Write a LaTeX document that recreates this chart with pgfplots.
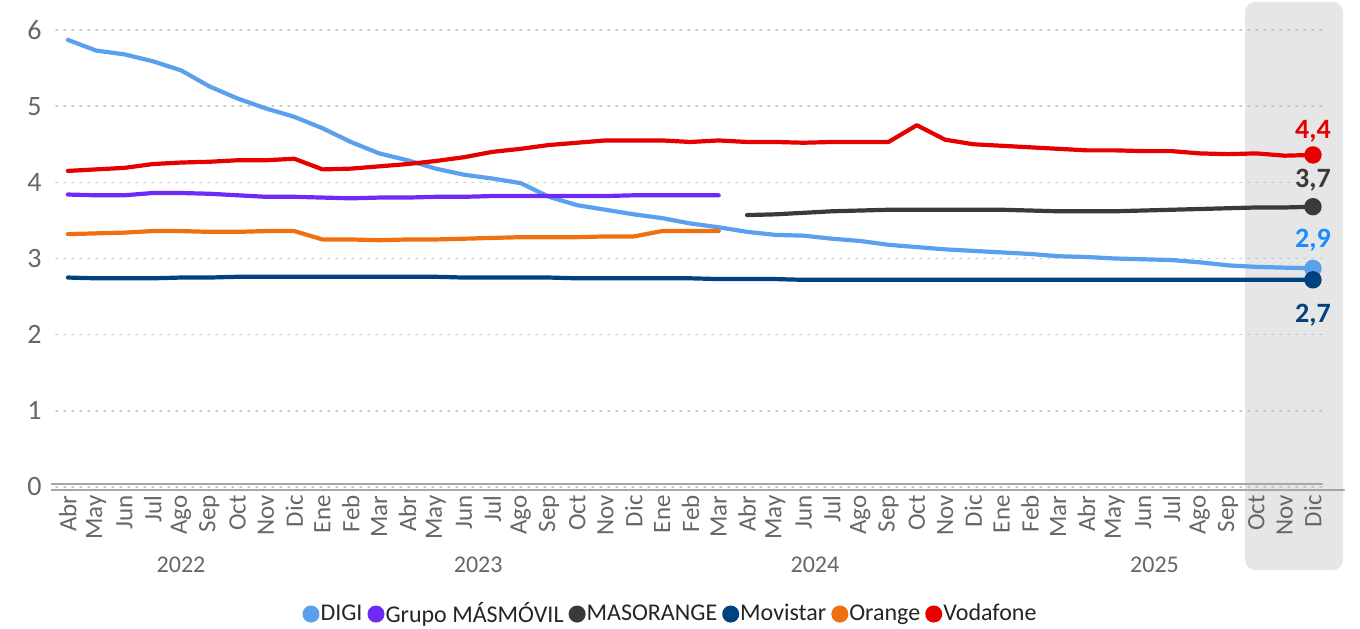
\documentclass[border=0pt]{standalone}
\usepackage{pgfplots}
\pgfplotsset{compat=1.18}
\usepackage{fontspec}
\setmainfont{Carlito}
\definecolor{cdigi}{HTML}{5BA0EC}
\definecolor{cdigilab}{HTML}{1A8CFF}
\definecolor{cmm}{HTML}{6E2AF7}
\definecolor{cmaso}{HTML}{3A3A3A}
\definecolor{cmov}{HTML}{00427E}
\definecolor{corange}{HTML}{F07010}
\definecolor{cvoda}{HTML}{E60000}
\definecolor{ctick}{HTML}{666666}
\definecolor{cleg}{HTML}{252423}
\definecolor{cband}{HTML}{E6E6E6}
\definecolor{cgrid}{HTML}{C4C4C4}
\definecolor{czero}{HTML}{A6A6A6}
\begin{document}
\begin{tikzpicture}
\useasboundingbox (-28pt,-70.5pt) rectangle (652pt,243.5pt);
\fill[cband, rounded corners=5pt] (594.5pt,-41.5pt) rectangle (643.5pt,242.5pt);
\begin{axis}[
  scale only axis,
  width=633pt, height=228.5pt,
  xmin=-0.42, xmax=44.32,
  ymin=0, ymax=6,
  clip=false,
  axis line style={draw=none},
  major tick length=0pt,
  xtick={0,...,44},
  xticklabels={Abr,May,Jun,Jul,Ago,Sep,Oct,Nov,Dic,Ene,Feb,Mar,Abr,May,Jun,Jul,Ago,Sep,Oct,Nov,Dic,Ene,Feb,Mar,Abr,May,Jun,Jul,Ago,Sep,Oct,Nov,Dic,Ene,Feb,Mar,Abr,May,Jun,Jul,Ago,Sep,Oct,Nov,Dic},
  xticklabel style={rotate=90, anchor=east, inner xsep=4pt, inner ysep=0pt, font=\fontsize{12.5}{14}\selectfont, text=ctick},
  ytick={0,1,2,3,4,5,6},
  yticklabels={0,1,2,3,4,5,6},
  yticklabel style={anchor=east, inner xsep=0pt, xshift=-7pt, font=\fontsize{14}{16}\selectfont, text=ctick},
  ymajorgrids,
  grid style={cgrid, line width=0.7pt, dash pattern=on 0.7pt off 3.3pt},
  line join=round, line cap=round,
  legend columns=-1,
  legend style={at={(0.485,-0.278)}, anchor=center, draw=none, fill=none,
    font=\fontsize{12}{14}\selectfont, text=cleg,
    /tikz/every even column/.append style={column sep=2pt},
    nodes={inner xsep=0.5pt, inner ysep=1pt}},
  legend image code/.code={\fill (0pt,0pt) circle (3.2pt);},
]
\draw[czero, line width=1.1pt] (axis cs:-0.99,0) ++(0,1.5pt) -- ([yshift=1.5pt]axis cs:44.32,0);
\draw[czero, line width=1.1pt] (axis cs:-0.99,0) ++(0,-1.5pt) -- ([yshift=-1.5pt]axis cs:45.1,0);

\addplot[color=cdigi, line width=2.1pt, mark=*, mark size=3.3pt, mark indices={45}] coordinates {
(0,5.87)(1,5.73)(2,5.68)(3,5.59)(4,5.47)(5,5.26)(6,5.10)(7,4.97)(8,4.86)(9,4.71)
(10,4.53)(11,4.38)(12,4.29)(13,4.18)(14,4.10)(15,4.05)(16,3.99)(17,3.81)(18,3.70)(19,3.64)
(20,3.58)(21,3.53)(22,3.46)(23,3.41)(24,3.35)(25,3.31)(26,3.30)(27,3.26)(28,3.23)(29,3.18)
(30,3.15)(31,3.12)(32,3.10)(33,3.08)(34,3.06)(35,3.03)(36,3.02)(37,3.00)(38,2.99)(39,2.98)
(40,2.95)(41,2.91)(42,2.89)(43,2.88)(44,2.87)};
\addlegendentry{DIGI}

\addplot[color=cmm, line width=2.1pt] coordinates {
(0,3.84)(1,3.83)(2,3.83)(3,3.86)(4,3.86)(5,3.85)(6,3.83)(7,3.81)(8,3.81)(9,3.80)
(10,3.79)(11,3.80)(12,3.80)(13,3.81)(14,3.81)(15,3.82)(16,3.82)(17,3.82)(18,3.82)(19,3.82)
(20,3.83)(21,3.83)(22,3.83)(23,3.83)};
\addlegendentry{Grupo MÁSMÓVIL}

\addplot[color=cmaso, line width=2.1pt, mark=*, mark size=3.3pt, mark indices={21}] coordinates {
(24,3.57)(25,3.58)(26,3.60)(27,3.62)(28,3.63)(29,3.64)(30,3.64)(31,3.64)(32,3.64)(33,3.64)
(34,3.63)(35,3.62)(36,3.62)(37,3.62)(38,3.63)(39,3.64)(40,3.65)(41,3.66)(42,3.67)(43,3.67)(44,3.68)};
\addlegendentry{MASORANGE}

\addplot[color=cmov, line width=2.1pt, mark=*, mark size=3.3pt, mark indices={45}] coordinates {
(0,2.75)(1,2.74)(2,2.74)(3,2.74)(4,2.75)(5,2.75)(6,2.76)(7,2.76)(8,2.76)(9,2.76)
(10,2.76)(11,2.76)(12,2.76)(13,2.76)(14,2.75)(15,2.75)(16,2.75)(17,2.75)(18,2.74)(19,2.74)
(20,2.74)(21,2.74)(22,2.74)(23,2.73)(24,2.73)(25,2.73)(26,2.72)(27,2.72)(28,2.72)(29,2.72)
(30,2.72)(31,2.72)(32,2.72)(33,2.72)(34,2.72)(35,2.72)(36,2.72)(37,2.72)(38,2.72)(39,2.72)
(40,2.72)(41,2.72)(42,2.72)(43,2.72)(44,2.72)};
\addlegendentry{Movistar}

\addplot[color=corange, line width=2.1pt] coordinates {
(0,3.32)(1,3.33)(2,3.34)(3,3.36)(4,3.36)(5,3.35)(6,3.35)(7,3.36)(8,3.36)(9,3.25)
(10,3.25)(11,3.24)(12,3.25)(13,3.25)(14,3.26)(15,3.27)(16,3.28)(17,3.28)(18,3.28)(19,3.29)
(20,3.29)(21,3.36)(22,3.36)(23,3.36)};
\addlegendentry{Orange}

\addplot[color=cvoda, line width=2.1pt, mark=*, mark size=3.3pt, mark indices={45}] coordinates {
(0,4.15)(1,4.17)(2,4.19)(3,4.24)(4,4.26)(5,4.27)(6,4.29)(7,4.29)(8,4.31)(9,4.17)
(10,4.18)(11,4.21)(12,4.24)(13,4.28)(14,4.33)(15,4.40)(16,4.44)(17,4.49)(18,4.52)(19,4.55)
(20,4.55)(21,4.55)(22,4.53)(23,4.55)(24,4.53)(25,4.53)(26,4.52)(27,4.53)(28,4.53)(29,4.53)
(30,4.75)(31,4.56)(32,4.50)(33,4.48)(34,4.46)(35,4.44)(36,4.42)(37,4.42)(38,4.41)(39,4.41)
(40,4.38)(41,4.37)(42,4.38)(43,4.35)(44,4.36)};
\addlegendentry{Vodafone}

\node[font=\bfseries\fontsize{14}{16}\selectfont, text=cvoda, yshift=12pt] at (axis cs:44,4.36) {4,4};
\node[font=\bfseries\fontsize{14}{16}\selectfont, text=cmaso, yshift=13.5pt] at (axis cs:44,3.68) {3,7};
\node[font=\bfseries\fontsize{14}{16}\selectfont, text=cdigilab, yshift=14pt] at (axis cs:44,2.87) {2,9};
\node[font=\bfseries\fontsize{14}{16}\selectfont, text=cmov, yshift=-17.5pt] at (axis cs:44,2.72) {2,7};

\node[font=\fontsize{12}{14}\selectfont, text=ctick, yshift=-39pt] at (axis cs:4,0) {2022};
\node[font=\fontsize{12}{14}\selectfont, text=ctick, yshift=-39pt] at (axis cs:14.5,0) {2023};
\node[font=\fontsize{12}{14}\selectfont, text=ctick, yshift=-39pt] at (axis cs:26.4,0) {2024};
\node[font=\fontsize{12}{14}\selectfont, text=ctick, yshift=-39pt] at (axis cs:38.4,0) {2025};
\end{axis}
\end{tikzpicture}
\end{document}
